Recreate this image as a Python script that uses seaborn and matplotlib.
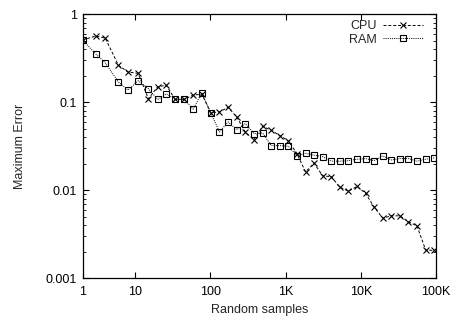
import numpy as np
import pandas as pd
import matplotlib
matplotlib.use("Agg")
import matplotlib.pyplot as plt
from matplotlib.ticker import FixedLocator, LogLocator, NullLocator, NullFormatter
import seaborn as sns

# sample counts (x positions of the points)
samples = [2, 3, 4, 6, 8, 11, 15, 20, 26, 34, 45, 59, 77, 101, 132, 172, 224,
           292, 380, 494, 643, 836, 1087, 1414, 1839, 2391, 3109, 4042, 5255,
           6832, 8882, 11547, 15012, 19516, 25371, 32983, 42878, 55742, 72465,
           94205]

cpu_err = [0.507, 0.563, 0.534, 0.262, 0.22, 0.212, 0.109, 0.150, 0.155, 0.1075,
           0.1075, 0.12, 0.123, 0.0758, 0.0772, 0.0873, 0.0678, 0.0454, 0.0374,
           0.0531, 0.0479, 0.0416, 0.0362, 0.026, 0.0161, 0.0202, 0.0145, 0.0142,
           0.0108, 0.0097, 0.011, 0.0092, 0.0064, 0.0048, 0.0051, 0.0051, 0.00436,
           0.00392, 0.00209, 0.00206]

ram_err = [0.507, 0.352, 0.28, 0.169, 0.137, 0.175, 0.142, 0.107, 0.124, 0.1075,
           0.1075, 0.0829, 0.128, 0.0758, 0.0458, 0.0594, 0.0486, 0.0569, 0.0438,
           0.0446, 0.032, 0.032, 0.0315, 0.0246, 0.0262, 0.0249, 0.024, 0.0213,
           0.0213, 0.0216, 0.0224, 0.0228, 0.0216, 0.0245, 0.022, 0.0228, 0.0228,
           0.0213, 0.0224, 0.0232]

x_ticks = [2, 10, 100, 1000, 10000, 100000]
x_ticklabels = ["1", "10", "100", "1K", "10K", "100K"]
y_ticks = [0.001, 0.01, 0.1, 1]
y_ticklabels = ["0.001", "0.01", "0.1", "1"]

df = pd.DataFrame({"samples": samples, "CPU": cpu_err, "RAM": ram_err})

sns.set_style("ticks")
plt.rcParams["font.family"] = ["Liberation Sans", "DejaVu Sans"]
plt.rcParams["font.size"] = 9

fig = plt.figure(figsize=(4.51, 3.2), dpi=100)
ax = fig.add_axes([0.183, 0.131, 0.784, 0.825])

sns.lineplot(data=df, x="samples", y="CPU", ax=ax, color="black", linestyle=(0, (3, 2)),
             linewidth=0.7, marker="x", markersize=4.3, markeredgewidth=0.8,
             markeredgecolor="black", label="CPU")
sns.lineplot(data=df, x="samples", y="RAM", ax=ax, color="black", linestyle=(0, (1, 1.2)),
             linewidth=0.7, marker="s", markersize=4.3, markeredgewidth=0.8,
             markerfacecolor="none", markeredgecolor="black", label="RAM")

ax.set_xscale("log")
ax.set_yscale("log")
ax.set_xlim(2, 100000)
ax.set_ylim(0.001, 1)

ax.xaxis.set_major_locator(FixedLocator(x_ticks))
ax.set_xticklabels(x_ticklabels)
ax.xaxis.set_minor_locator(NullLocator())
ax.yaxis.set_major_locator(FixedLocator(y_ticks))
ax.set_yticklabels(y_ticklabels)
ax.yaxis.set_minor_locator(LogLocator(base=10, subs=np.arange(2, 10)))
ax.yaxis.set_minor_formatter(NullFormatter())

ax.tick_params(which="both", direction="in", top=True, right=True, color="black",
               labelsize=9, labelcolor="black")
ax.tick_params(which="major", length=4, width=0.8, pad=4)
ax.tick_params(axis="x", which="major", pad=6)
ax.tick_params(which="minor", length=2, width=0.6)
for s in ax.spines.values():
    s.set_linewidth(0.9)
    s.set_color("black")

ax.set_xlabel("Random samples", fontsize=9, labelpad=4)
ax.set_ylabel("Maximum Error", fontsize=9, labelpad=14)

ax.legend(loc="upper right", frameon=False, markerfirst=False, fontsize=9,
          handlelength=3.2, numpoints=1, handletextpad=0.5, labelspacing=0.1,
          borderaxespad=0.2, bbox_to_anchor=(0.985, 1.005))

fig.savefig("out.png", dpi=100)
